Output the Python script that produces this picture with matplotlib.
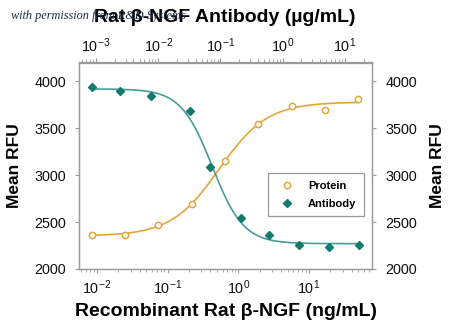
import numpy as np
import matplotlib
matplotlib.use("Agg")
import matplotlib.pyplot as plt
from matplotlib.lines import Line2D

plt.rcParams['font.family'] = ['Liberation Sans', 'DejaVu Sans']
plt.rcParams['mathtext.fontset'] = 'custom'
plt.rcParams['mathtext.rm'] = 'Liberation Sans'

# Protein series (bottom axis, ng/mL)
protein_conc = [0.0084, 0.025, 0.072, 0.22, 0.65, 1.9, 5.7, 17, 50]
protein_rfu = [2366, 2362, 2465, 2696, 3155, 3546, 3733, 3698, 3812]

# Antibody series (top axis, ug/mL)
antibody_conc = [0.00085, 0.0024, 0.0076, 0.032, 0.068, 0.21, 0.61, 1.84, 5.6, 16.6]
antibody_rfu = [3936, 3901, 3840, 3688, 3083, 2544, 2358, 2256, 2238, 2256]

orange = "#E2A73C"
teal_mark = "#137A6E"
teal_line = "#4A9C99"
spine_gray = "#9A9A9A"


def fit_4pl(xs, ys):
    # crude grid fit, bottom/top solved by linear least squares
    lx = np.log10(np.asarray(xs, float))
    y = np.asarray(ys, float)
    lc = np.linspace(lx.min(), lx.max(), 300)[:, None, None]
    h = np.linspace(0.4, 4.0, 120)[None, :, None]
    s = 1.0 / (1.0 + 10 ** ((lc - lx) * h))
    a = 1 - s
    saa = (a * a).sum(-1); sbb = (s * s).sum(-1); sab = (a * s).sum(-1)
    say = (a * y).sum(-1); sby = (s * y).sum(-1)
    det = saa * sbb - sab ** 2
    b0 = (sbb * say - sab * sby) / det
    b1 = (saa * sby - sab * say) / det
    err = (((b0[..., None] * a + b1[..., None] * s) - y) ** 2).sum(-1)
    i, j = np.unravel_index(np.argmin(err), err.shape)
    c0, h0, lo, hi = lc[i, 0, 0], h[0, j, 0], b0[i, j], b1[i, j]

    def f(x):
        s = 1.0 / (1.0 + 10 ** ((c0 - np.log10(x)) * h0))
        return lo * (1 - s) + hi * s
    return f


fig = plt.figure(figsize=(4.5, 3.32), dpi=100)
ax = fig.add_axes([79 / 450, 1 - 269 / 332, (372 - 79) / 450, (269 - 62.5) / 332])
ax2 = ax.twiny()

fp = fit_4pl(protein_conc, protein_rfu)
xp = np.logspace(np.log10(protein_conc[0]), np.log10(protein_conc[-1]), 300)
ax.plot(xp, fp(xp), color=orange, lw=1.2, zorder=2)
ax.plot(protein_conc, protein_rfu, 'o', ms=4.5, mfc='white', mec=orange, mew=1.1, zorder=3)

fa = fit_4pl(antibody_conc, antibody_rfu)
xa = np.logspace(np.log10(antibody_conc[0]), np.log10(antibody_conc[-1]), 300)
ax2.plot(xa, fa(xa), color=teal_line, lw=1.2, zorder=2)
ax2.plot(antibody_conc, antibody_rfu, 'D', ms=4, color=teal_mark, zorder=3)

ax.set_xscale('log')
ax2.set_xscale('log')
ax.set_xlim(0.00556, 77.8)
ax2.set_xlim(0.000533, 27.2)
ax.set_ylim(2000, 4200)
ax.set_yticks([2000, 2500, 3000, 3500, 4000])

for a in (ax, ax2):
    for sp in a.spines.values():
        sp.set_color(spine_gray)
        sp.set_linewidth(0.9)
    a.tick_params(which='both', color=spine_gray, labelsize=10.4, labelcolor='#111111')
    a.tick_params(which='major', length=3, width=0.8)
    a.tick_params(which='minor', length=2, width=0.6)
ax.tick_params(axis='y', right=True, labelright=True, pad=6.5)
ax.tick_params(axis='x', pad=3.5)
ax2.tick_params(axis='x', pad=2.5)

ax.text((15 - 79) / 293, 0.5, "Mean RFU", transform=ax.transAxes, rotation=90,
        ha='center', va='center', fontsize=12.5, fontweight='bold')
ax.text((437 - 79) / 293, 0.5, "Mean RFU", transform=ax.transAxes, rotation=90,
        ha='center', va='center', fontsize=12.5, fontweight='bold')
fig.text(226 / 450, 1 - 311 / 332, "Recombinant Rat β-NGF (ng/mL)",
         ha='center', va='center', fontsize=14, fontweight='bold')
fig.text(225 / 450, 1 - 17 / 332, "Rat β-NGF Antibody (µg/mL)",
         ha='center', va='center', fontsize=14, fontweight='bold')
fig.text(11 / 450, 1 - 16 / 332, "with permission from R&D Systems",
         ha='left', va='center', fontsize=8.8, style='italic',
         family='Liberation Serif', color='#1F2A44')

handles = [
    Line2D([], [], ls='', marker='o', ms=4.5, mfc='white', mec=orange, mew=1.1),
    Line2D([], [], ls='', marker='D', ms=4, color=teal_mark),
]
leg = ax2.legend(handles, ["Protein", "Antibody"], loc='upper left',
                 bbox_to_anchor=((268 - 79) / 293, (269 - 173) / 206.5),
                 borderaxespad=0, frameon=True, fancybox=False, framealpha=1,
                 prop={'size': 8, 'weight': 'bold'}, handletextpad=0.9,
                 borderpad=0.7, labelspacing=0.7)
leg.get_frame().set_edgecolor(spine_gray)
leg.get_frame().set_linewidth(0.9)

fig.savefig("out.png", dpi=100)
